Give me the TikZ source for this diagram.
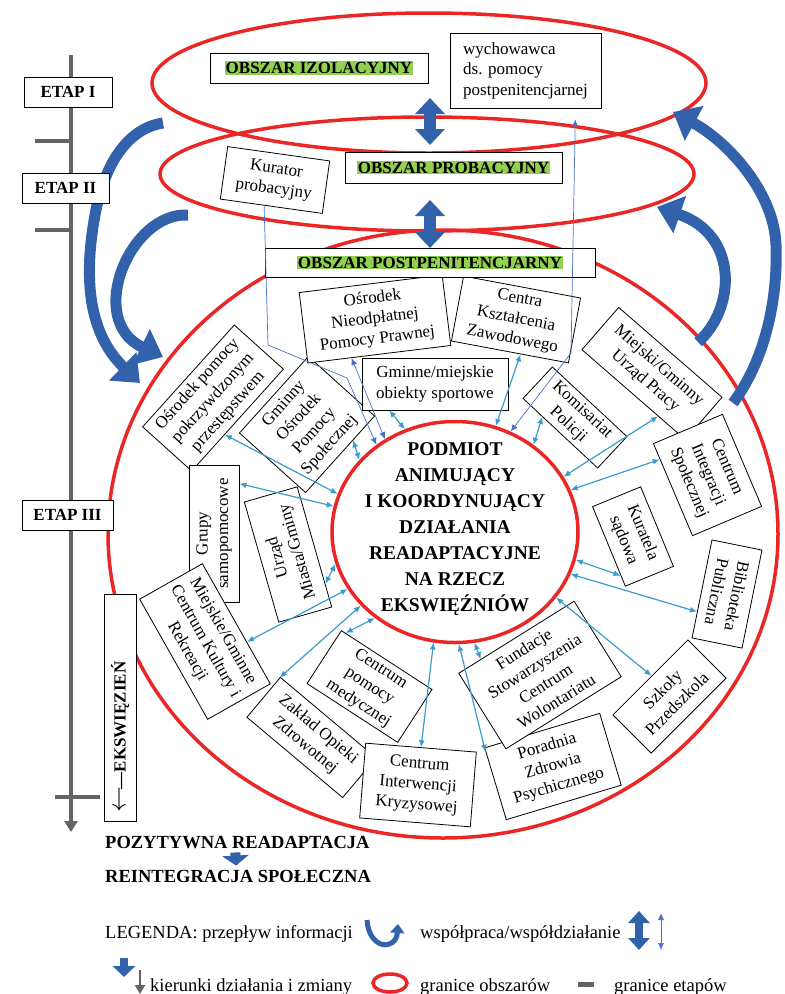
\documentclass[tikz,border=0pt]{standalone}
\usepackage{fontspec}
\setmainfont{Liberation Serif}
\usetikzlibrary{arrows.meta,shapes.geometric}

\definecolor{obred}{RGB}{234,38,38}
\definecolor{bigblue}{RGB}{50,98,172}
\definecolor{lnblue}{RGB}{58,156,205}
\definecolor{dkblue}{RGB}{72,112,200}
\definecolor{hlgreen}{RGB}{146,208,80}
\definecolor{etapgray}{RGB}{100,100,100}

\newcommand{\greenmark}[1]{{\setlength{\fboxsep}{1pt}\colorbox{hlgreen}{#1}}}

\begin{document}
\begin{tikzpicture}[x=1pt, y=-1pt,
    arealine/.style={draw=obred, line width=3.5pt},
    etapline/.style={draw=etapgray, line width=4.5pt},
    etapbox/.style={draw, fill=white, line width=0.8pt, inner sep=0pt,
        font=\bfseries\fontsize{17}{20}\selectfont},
    ringbox/.style={draw, fill=white, line width=0.8pt, align=center, inner sep=1pt,
        font=\fontsize{17}{20.5}\selectfont},
    infolink/.style={lnblue, line width=1.2pt,
        {Latex[length=7pt,width=6pt]}-{Latex[length=7pt,width=6pt]}},
    dklink/.style={dkblue, line width=0.7pt,
        {Latex[length=7pt,width=6pt]}-{Latex[length=7pt,width=6pt]}},
    flow/.style={bigblue, line width=11pt, -{Triangle[width=38pt,length=24pt]}},
    coop/.style={bigblue, line width=12pt,
        {Triangle[width=29pt,length=16pt]}-{Triangle[width=29pt,length=16pt]}},
    legtext/.style={anchor=base west, inner sep=0pt, font=\fontsize{18.5}{20}\selectfont}]

    \useasboundingbox (0,0) rectangle (785,994);

    % time line with stage limits
    \draw[etapline, -{Triangle[width=13pt,length=11pt]}] (71,55) -- (71,832);
    \draw[etapline] (35,141) -- (71,141);
    \draw[etapline] (35,230) -- (71,230);
    \draw[etapline] (55,797) -- (100,797);

    % areas
    \draw[arealine] (429,83) ellipse [x radius=277, y radius=70];
    \draw[arealine] (427,174) ellipse [x radius=267, y radius=57];
    \draw[arealine] (443,534) ellipse [x radius=335, y radius=304];
    \node[arealine, ellipse, minimum width=246pt, minimum height=221pt, inner sep=0pt]
        (podmiot) at (455,532) {};

    % information flow
    \coordinate (flA) at (163,123);
    \coordinate (flB) at (188,215);
    \coordinate (flC) at (733,403);
    \coordinate (flD) at (698,342);
    \draw[flow] (flA) .. controls (130,128) and (105,160) .. (95,215)
        .. controls (85,270) and (85,330) .. (140,383);
    \draw[flow] (flB) .. controls (130,212) and (85,320) .. (163,357);
    \draw[flow] (flC) .. controls (765,360) and (778,300) .. (776,245)
        .. controls (774,190) and (725,140) .. (673,112);
    \draw[flow] (flD) .. controls (735,310) and (740,235) .. (657,207);

    % stages
    \node[etapbox, minimum width=88pt, minimum height=30pt] (etap1) at (68,92) {ETAP I};
    \node[etapbox, minimum width=87pt, minimum height=30pt] (etap2) at (65.5,188) {ETAP II};
    \node[etapbox, minimum width=91pt, minimum height=30pt] (etap3) at (67.5,515) {ETAP III};
    \node[etapbox, rotate=90, minimum width=227pt, minimum height=32pt, text width=209pt,
        inner xsep=9pt, align=left] (eks) at (120,707.5)
        {\scalebox{1.5}{$\leftarrow$}\kern-3pt---EKSWIĘZIEŃ};

    % area labels
    \node[etapbox, minimum width=218pt, minimum height=30pt] (izol) at (319,68)
        {\greenmark{OBSZAR IZOLACYJNY}};
    \node[ringbox, align=left, minimum width=151pt, minimum height=75pt] (wych) at (525.5,70.5)
        {wychowawca\\ds. pomocy\\postpenitencjarnej};
    \node[etapbox, minimum width=217pt, minimum height=31pt] (prob) at (453.5,167.5)
        {\greenmark{OBSZAR PROBACYJNY}};
    \node[ringbox, rotate=-8, minimum width=103pt, minimum height=53pt] (kurator) at (275,180)
        {Kurator\\probacyjny};

    % institutions
    \node[ringbox, rotate=48, minimum width=137pt, minimum height=66pt] (pokrzyw) at (213,398)
        {Ośrodek pomocy\\pokrzywdzonym\\przestępstwem};
    \node[ringbox, rotate=48, minimum width=103pt, minimum height=89pt] (gops) at (307,424.5)
        {Gminny\\Ośrodek\\Pomocy\\Społecznej};
    \node[ringbox, rotate=7, minimum width=144pt, minimum height=71pt] (nieodpl) at (375,319)
        {Ośrodek\\Nieodpłatnej\\Pomocy Prawnej};
    \node[ringbox, rotate=-10.6, minimum width=119pt, minimum height=66pt] (ksztal) at (516,319.5)
        {Centra\\Kształcenia\\Zawodowego};
    \node[ringbox, minimum width=146pt, minimum height=52pt] (sport) at (435,384)
        {Gminne/miejskie\\obiekty sportowe};
    \node[ringbox, rotate=-43, minimum width=102pt, minimum height=43pt] (policja) at (575,417.5)
        {Komisariat\\Policji};
    \node[ringbox, rotate=-41, minimum width=137pt, minimum height=56pt] (upracy) at (652,373.5)
        {Miejski/Gminny\\Urząd Pracy};
    \node[ringbox, rotate=-67, minimum width=100pt, minimum height=75pt] (cis) at (707.5,475)
        {Centrum\\Integracji\\Społecznej};
    \node[ringbox, rotate=-67.6, minimum width=86pt, minimum height=52pt] (kuratela) at (633,536.5)
        {Kuratela\\sądowa};
    \node[ringbox, rotate=-101.5, minimum width=100pt, minimum height=51pt] (biblio) at (727,594)
        {Biblioteka\\Publiczna};
    \node[ringbox, rotate=45, minimum width=106pt, minimum height=54pt] (szkoly) at (669.5,696.5)
        {Szkoły\\Przedszkola};
    \node[ringbox, rotate=16.7, minimum width=120pt, minimum height=75pt] (poradnia) at (553,766.5)
        {Poradnia\\Zdrowia\\Psychicznego};
    \node[ringbox, rotate=32, minimum width=136pt, minimum height=89pt] (fundacje) at (540,675)
        {Fundacje\\Stowarzyszenia\\Centrum\\Wolontariatu};
    \node[ringbox, rotate=-40, minimum width=125pt, minimum height=52pt] (zoz) at (311.5,737.5)
        {Zakład Opieki\\Zdrowotnej};
    \node[ringbox, rotate=-33, minimum width=108pt, minimum height=63pt] (medyczna) at (369.5,686.5)
        {Centrum\\pomocy\\medycznej};
    \node[ringbox, rotate=-4.6, minimum width=111pt, minimum height=75pt] (cik) at (418,785)
        {Centrum\\Interwencji\\Kryzysowej};
    \node[ringbox, rotate=90, minimum width=137pt, minimum height=50pt] (grupy) at (214,533.5)
        {Grupy\\samopomocowe};
    \node[ringbox, rotate=-60.5, minimum width=138pt, minimum height=72pt] (kultura) at (205,641.5)
        {Miejskie/Gminne\\Centrum Kultury i\\Rekreacji};
    \node[ringbox, rotate=106, minimum width=125pt, minimum height=55pt] (umiasta) at (288,554.5)
        {Urząd\\Miasta/Gminy};

    \node[etapbox, minimum width=330pt, minimum height=29pt] (postp) at (430,262.5)
        {\greenmark{OBSZAR POSTPENITENCJARNY}};

    % cooperation between areas
    \coordinate (co1a) at (430,98);
    \coordinate (co1b) at (430,145);
    \coordinate (co2a) at (430,200);
    \coordinate (co2b) at (430,248);
    \draw[coop] (co1a) -- (co1b);
    \draw[coop] (co2a) -- (co2b);

    % links to the coordinating body
    \coordinate (kb1) at (268,345);
    \coordinate (kb2) at (347,378);
    \coordinate (wb1) at (571,353);
    \draw[dkblue, line width=0.7pt, -{Latex[length=7pt,width=6pt]}]
        (kurator.-105) -- (kb1) -- (kb2) -- (podmiot.132);
    \draw[dklink, shorten <=11pt] ([xshift=50pt]wych.south) -- (wb1) -- (podmiot.61);
    \draw[dklink] (nieodpl.-128) -- (podmiot.127);
    \draw[infolink] (pokrzyw.240) -- (podmiot.162);
    \draw[infolink] (grupy.-27) -- (podmiot.168);
    \draw[infolink] (gops.-67) -- (podmiot.143);
    \draw[infolink] (sport.-150) -- (podmiot.116);
    \draw[infolink] (ksztal.-72) -- (podmiot.69);
    \draw[infolink] (policja.-138) -- (podmiot.48);
    \draw[infolink] (upracy.-41) -- (podmiot.27);
    \draw[infolink] (cis.-131) -- (podmiot.20);
    \draw[infolink] (kuratela.-40) -- (podmiot.-13);
    \draw[infolink] (biblio.-48) -- (podmiot.-20);
    \draw[infolink] (szkoly.86) -- (podmiot.-33);
    \draw[infolink] (fundacje.133) -- (podmiot.-80);
    \draw[infolink] (poradnia.151) -- (podmiot.-88);
    \draw[infolink] (cik.north) -- (podmiot.-101);
    \draw[infolink] (medyczna.147) -- (podmiot.-133);
    \draw[infolink] (zoz.158) -- (podmiot.-142);
    \draw[infolink] (kultura.60) -- (podmiot.-152);
    \draw[infolink] (umiasta.-144) -- (podmiot.-165);

    \node[align=center, font=\bfseries\fontsize{19.5}{26}\selectfont] (podmiottxt) at (455,529)
        {PODMIOT\\ANIMUJĄCY\\I KOORDYNUJĄCY\\DZIAŁANIA\\READAPTACYJNE\\NA RZECZ\\EKSWIĘŹNIÓW};

    % result
    \node[legtext, font=\bfseries\fontsize{18.5}{20}\selectfont] (pozyt) at (105,848)
        {POZYTYWNA READAPTACJA};
    \node[legtext, font=\bfseries\fontsize{18.5}{20}\selectfont] (reint) at (105,882)
        {REINTEGRACJA SPOŁECZNA};
    \draw[bigblue, line width=10pt, -{Triangle[width=26pt,length=10pt]}]
        ([xshift=-2pt, yshift=-4pt]pozyt.south) -- ([xshift=-2pt, yshift=4pt]reint.north);

    % legend
    \node[legtext] (leginfo) at (105,938) {LEGENDA: przepływ informacji};
    \draw[bigblue, line width=5pt, -{Triangle[width=14pt,length=9pt]}]
        (367,920) .. controls (369,950) and (396,951) .. (398,924);
    \node[legtext] (legcoop) at (420,938) {współpraca/współdziałanie};
    \draw[bigblue, line width=8pt,
        {Triangle[width=21pt,length=12pt]}-{Triangle[width=21pt,length=12pt]}]
        (639,911) -- (639,950);
    \draw[dklink] (661,913) -- (661,950);
    \draw[bigblue, line width=8pt, -{Triangle[width=22pt,length=11pt]}] (124,958) -- (124,977);
    \draw[etapgray, line width=2.5pt, -{Triangle[width=10pt,length=9pt]}] (140,970) -- (140,994);
    \node[legtext] (legdir) at (150,991) {kierunki działania i zmiany};
    \draw[obred, line width=3.5pt] (390,983) ellipse [x radius=17, y radius=9];
    \node[legtext] (legarea) at (420,991) {granice obszarów};
    \draw[etapgray, line width=5pt] (578,984) -- (594,984);
    \node[legtext] (legetap) at (614,991) {granice etapów};
\end{tikzpicture}
\end{document}
